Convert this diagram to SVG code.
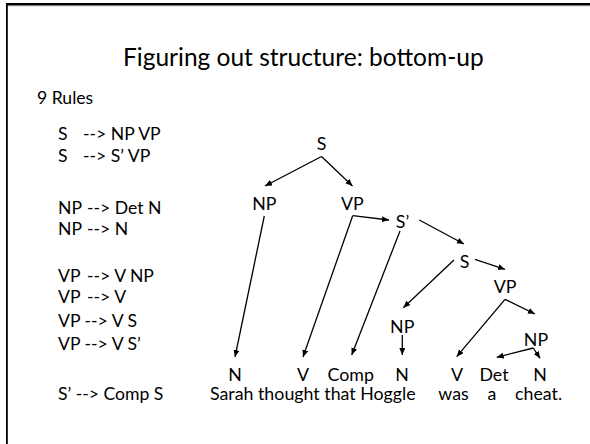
<svg xmlns="http://www.w3.org/2000/svg" width="590" height="444" viewBox="0 0 590 444">
  <style>
    text { font-family: Lato, "Liberation Sans", sans-serif; fill: #000; }
    .title { font-size: 24.5px; }
    .rule { font-size: 17.6px; }
    .lbl { font-size: 17.8px; text-anchor: middle; }
    .word { font-size: 17.8px; }
    .edge { stroke: #000; stroke-width: 1.3; fill: none; marker-end: url(#head); }
  </style>
  <defs>
    <marker id="head" markerUnits="userSpaceOnUse" markerWidth="9" markerHeight="8" refX="7" refY="3" orient="auto">
      <path d="M0,0 L7,3 L0,6 Z" fill="#000"/>
    </marker>
  </defs>

  <rect width="590" height="444" fill="#fff"/>
  <!-- slide frame: top and left edges -->
  <rect x="6" y="5" width="584" height="1.2" fill="#9a9a9a"/>
  <rect x="6" y="3" width="584" height="2.2" fill="#000"/>
  <rect x="6" y="3" width="1.8" height="441" fill="#000"/>

  <text class="title" x="123" y="66">Figuring out structure: bottom-up</text>
  <text class="rule" x="37" y="104">9 Rules</text>

  <!-- grammar rules -->
  <g id="rules">
    <text class="rule" y="140"><tspan x="58">S</tspan><tspan x="83">--&gt; NP VP</tspan></text>
    <text class="rule" y="161.5"><tspan x="58">S</tspan><tspan x="83">--&gt; S’ VP</tspan></text>
    <text class="rule" y="214"><tspan x="58">NP</tspan><tspan x="87">--&gt; Det N</tspan></text>
    <text class="rule" y="235"><tspan x="58">NP</tspan><tspan x="87">--&gt; N</tspan></text>
    <text class="rule" y="281.5"><tspan x="58">VP</tspan><tspan x="87">--&gt; V NP</tspan></text>
    <text class="rule" y="303"><tspan x="58">VP</tspan><tspan x="87">--&gt; V</tspan></text>
    <text class="rule" x="58" y="326.5">VP --&gt; V S</text>
    <text class="rule" x="58" y="350">VP --&gt; V S’</text>
    <text class="rule" x="58" y="399.5">S’ --&gt; Comp S</text>
  </g>

  <!-- tree connectors -->
  <g id="connectors">
    <line class="edge" x1="321.5" y1="156.5" x2="265" y2="186"/>
    <line class="edge" x1="321.5" y1="156.5" x2="352.5" y2="186"/>
    <line class="edge" x1="264.3" y1="216" x2="235" y2="357"/>
    <line class="edge" x1="352.7" y1="215.7" x2="303" y2="357"/>
    <line class="edge" x1="352.7" y1="215.7" x2="389" y2="220"/>
    <line class="edge" x1="400" y1="231" x2="351.7" y2="355"/>
    <line class="edge" x1="419.3" y1="220" x2="464" y2="244"/>
    <line class="edge" x1="454" y1="260" x2="403.3" y2="307.7"/>
    <line class="edge" x1="475" y1="259.3" x2="505" y2="269.3"/>
    <line class="edge" x1="505" y1="299.3" x2="456.7" y2="356.7"/>
    <line class="edge" x1="505" y1="299.3" x2="535" y2="314"/>
    <line class="edge" x1="402.3" y1="335" x2="402.3" y2="355"/>
    <line class="edge" x1="533.3" y1="348" x2="496.7" y2="357.3"/>
    <line class="edge" x1="533.3" y1="348" x2="540" y2="358.3"/>
  </g>

  <!-- tree nodes -->
  <g id="s-root"><text class="lbl" x="321.7" y="149.5">S</text></g>
  <g id="np-subj"><text class="lbl" x="264.3" y="210">NP</text></g>
  <g id="vp-main"><text class="lbl" x="352.3" y="210">VP</text></g>
  <g id="s-bar"><text class="lbl" x="402.5" y="228.3">S’</text></g>
  <g id="s-embedded"><text class="lbl" x="464.7" y="268.3">S</text></g>
  <g id="vp-embedded"><text class="lbl" x="505" y="292.5">VP</text></g>
  <g id="np-hoggle"><text class="lbl" x="402.2" y="333">NP</text></g>
  <g id="np-cheat"><text class="lbl" x="536" y="346">NP</text></g>

  <g id="n-sarah"><text class="lbl" x="235" y="381">N</text></g>
  <g id="v-thought"><text class="lbl" x="303" y="381">V</text></g>
  <g id="comp-that"><text class="lbl" x="350.7" y="381">Comp</text></g>
  <g id="n-hoggle"><text class="lbl" x="402" y="381">N</text></g>
  <g id="v-was"><text class="lbl" x="457" y="381">V</text></g>
  <g id="det-a"><text class="lbl" x="494" y="381">Det</text></g>
  <g id="n-cheat"><text class="lbl" x="540" y="381">N</text></g>

  <!-- sentence -->
  <g id="sentence">
    <text class="word" x="210" y="399.5">Sarah thought that Hoggle</text>
    <text class="word" x="453.5" y="399.5" text-anchor="middle">was</text>
    <text class="word" x="492" y="399.5" text-anchor="middle">a</text>
    <text class="word" x="515" y="399.5">cheat.</text>
  </g>
</svg>
